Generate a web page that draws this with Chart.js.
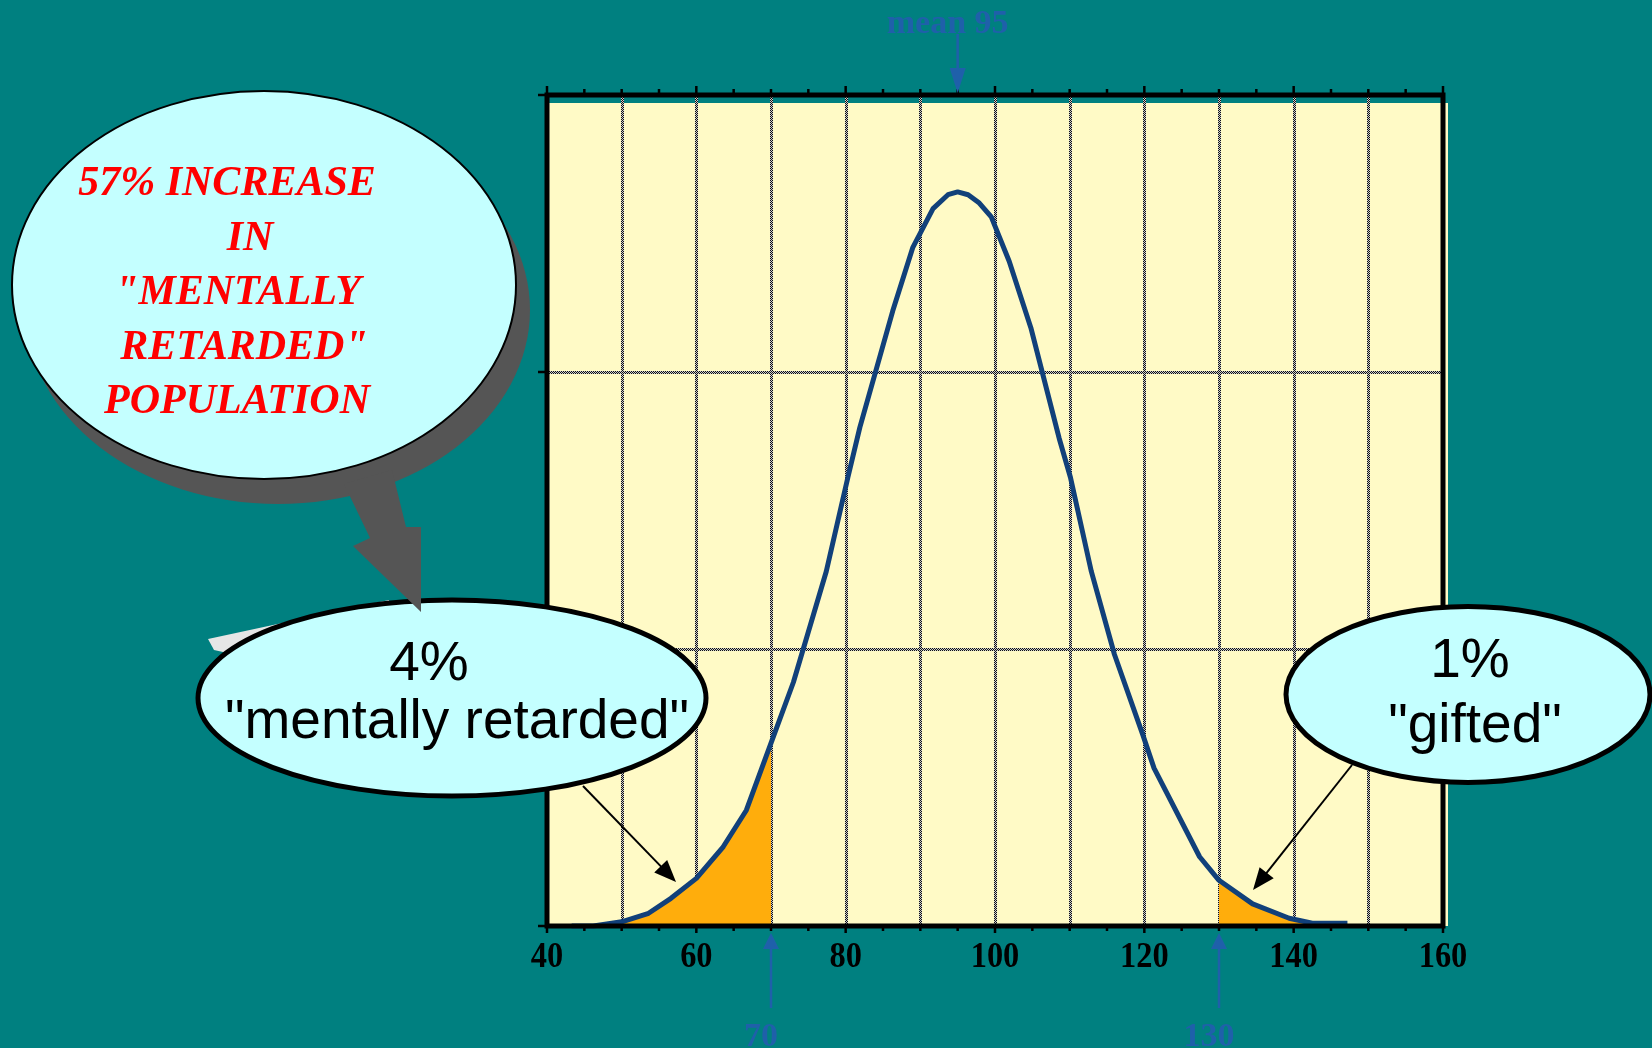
<!DOCTYPE html>
<html>
<head>
<meta charset="utf-8">
<script src="https://cdn.jsdelivr.net/npm/chart.js@4.4.1/dist/chart.umd.min.js"></script>
<style>
  html, body { margin: 0; padding: 0; background: #008080; overflow: hidden; }
  #wrap { position: relative; width: 1652px; height: 1048px; }
</style>
</head>
<body>
<div id="wrap"><canvas id="c" width="1652" height="1048"></canvas></div>
<script>
// IQ distribution curve: vertices of the drawn polyline (IQ score, % of population per point)
const curveX = [43.3, 46.2, 50.0, 53.6, 56.6, 60.0, 63.6, 66.7, 70.0, 73.0,
                77.4, 80.3, 81.9, 86.3, 89.0, 91.7, 93.7, 95.0, 96.4, 97.9,
                99.5, 101.9, 104.8, 108.6, 110.1, 112.9, 116.0, 119.8, 121.3, 127.4,
                130.0, 134.5, 139.4, 142.5, 147.2];
const curveY = [0.00, 0.00, 0.015, 0.046, 0.10, 0.172, 0.286, 0.418, 0.66, 0.88,
                1.28, 1.62, 1.80, 2.22, 2.45, 2.59, 2.64, 2.65, 2.64, 2.61,
                2.56, 2.40, 2.16, 1.76, 1.62, 1.28, 0.98, 0.69, 0.57, 0.25,
                0.165, 0.08, 0.028, 0.01, 0.01];

// Axis ticks and markers
const xTickLabels = [40, 60, 80, 100, 120, 140, 160];
const lowerCut = 70;
const upperCut = 130;
const meanIQ = 95;
const meanLabel = 'mean 95';

// Callout texts
const bubbleLines = ['57% INCREASE', 'IN', '"MENTALLY', 'RETARDED"', 'POPULATION'];
const lowLabel = ['4%', '"mentally retarded"'];
const highLabel = ['1%', '"gifted"'];

const PAPER = '#FFFAC6';
const ORANGE = '#FFAD0C';
const NAVY = '#11407A';
const CYAN = '#C4FFFF';
const MARK_BLUE = '#1F60AA';
const SHADOW = '#555555';

const pts = curveX.map((x, i) => ({ x: x, y: curveY[i] }));

function checkerPattern(ctx) {
  const c = document.createElement('canvas');
  c.width = 2; c.height = 2;
  const g = c.getContext('2d');
  g.fillStyle = '#d0d0d0'; g.fillRect(0, 0, 2, 2);
  g.fillStyle = '#111111'; g.fillRect(0, 0, 1, 1); g.fillRect(1, 1, 1, 1);
  return ctx.createPattern(c, 'repeat');
}

function arrowHead(ctx, x0, y0, x1, y1, len, half) {
  const ang = Math.atan2(y1 - y0, x1 - x0);
  const bx = x1 - len * Math.cos(ang), by = y1 - len * Math.sin(ang);
  const nx = -Math.sin(ang) * half, ny = Math.cos(ang) * half;
  ctx.beginPath();
  ctx.moveTo(x1, y1);
  ctx.lineTo(bx + nx, by + ny);
  ctx.lineTo(bx - nx, by - ny);
  ctx.closePath();
  ctx.fill();
}

function arrow(ctx, x0, y0, x1, y1, color, width, len, half) {
  const ang = Math.atan2(y1 - y0, x1 - x0);
  ctx.strokeStyle = color; ctx.fillStyle = color; ctx.lineWidth = width;
  ctx.beginPath();
  ctx.moveTo(x0, y0);
  ctx.lineTo(x1 - (len - 2) * Math.cos(ang), y1 - (len - 2) * Math.sin(ang));
  ctx.stroke();
  arrowHead(ctx, x0, y0, x1, y1, len, half);
}

function ellipse(ctx, cx, cy, rx, ry, fill, stroke, lw) {
  ctx.beginPath();
  ctx.ellipse(cx, cy, rx, ry, 0, 0, Math.PI * 2);
  if (fill) { ctx.fillStyle = fill; ctx.fill(); }
  if (stroke) { ctx.strokeStyle = stroke; ctx.lineWidth = lw; ctx.stroke(); }
}

// Plot paper, dotted grid, frame, ticks and labels
const paperPlugin = {
  id: 'paper',
  beforeDatasetsDraw(chart) {
    const { ctx, chartArea: a, scales: { x, y } } = chart;
    ctx.save();
    ctx.fillStyle = PAPER;
    ctx.fillRect(a.left + 2, a.top + 8, a.right - a.left + 3, a.bottom - a.top - 8);
    ctx.fillStyle = checkerPattern(ctx);
    for (let v = x.min + 10; v < x.max; v += 10) {
      const px = Math.round(x.getPixelForValue(v));
      ctx.fillRect(px - 1, a.top, 3, a.bottom - a.top);
    }
    for (let v = y.min + 1; v < y.max; v += 1) {
      const py = Math.round(y.getPixelForValue(v));
      ctx.fillRect(a.left, py - 1, a.right - a.left, 3);
    }
    ctx.restore();
  },
  afterDatasetsDraw(chart) {
    const { ctx, chartArea: a, scales: { x, y } } = chart;
    ctx.save();
    ctx.strokeStyle = '#000';
    ctx.lineCap = 'square';
    ctx.lineWidth = 5;
    ctx.beginPath();
    ctx.moveTo(a.left, a.top); ctx.lineTo(a.right, a.top);
    ctx.moveTo(a.left, a.bottom); ctx.lineTo(a.right, a.bottom);
    ctx.moveTo(a.left, a.top); ctx.lineTo(a.left, a.bottom);
    ctx.moveTo(a.right, a.top); ctx.lineTo(a.right, a.bottom);
    ctx.stroke();

    // minor/major ticks every 5 along the top and bottom axes
    ctx.lineCap = 'butt';
    ctx.lineWidth = 2.5;
    ctx.beginPath();
    for (let v = x.min; v <= x.max; v += 5) {
      const px = x.getPixelForValue(v);
      const major = (v - x.min) % 20 === 0;
      ctx.moveTo(px, a.top); ctx.lineTo(px, a.top - (major ? 9 : 6));
      ctx.moveTo(px, a.bottom); ctx.lineTo(px, a.bottom + (major ? 7 : 5));
    }
    for (let v = y.min; v <= y.max; v += 1) {
      const py = y.getPixelForValue(v);
      ctx.moveTo(a.left, py); ctx.lineTo(a.left - 9, py);
    }
    ctx.stroke();

    // bold, slightly narrowed tick labels under the axis
    ctx.fillStyle = '#000';
    ctx.font = 'bold 36px "Liberation Serif", "Times New Roman", serif';
    ctx.textAlign = 'center';
    ctx.textBaseline = 'alphabetic';
    xTickLabels.forEach(v => {
      ctx.save();
      ctx.translate(x.getPixelForValue(v), a.bottom + 41);
      ctx.scale(0.9, 1);
      ctx.fillText(String(v), 0, 0);
      ctx.restore();
    });
    ctx.restore();
  }
};

// Mean and cut-off markers, speech bubbles and pointers
const calloutPlugin = {
  id: 'callouts',
  afterDraw(chart) {
    const { ctx, chartArea: a, scales: { x } } = chart;
    ctx.save();

    // mean marker above the plot
    const mx = x.getPixelForValue(meanIQ);
    ctx.fillStyle = MARK_BLUE;
    ctx.font = 'bold 34px "Liberation Serif", "Times New Roman", serif';
    ctx.textAlign = 'center';
    ctx.textBaseline = 'alphabetic';
    ctx.fillText(meanLabel, mx - 10, 33);
    arrow(ctx, mx, 34, mx, a.top - 2, MARK_BLUE, 2.5, 25, 8);

    // cut-off markers below the axis
    [lowerCut, upperCut].forEach(v => {
      const px = x.getPixelForValue(v);
      arrow(ctx, px, 1008, px, a.bottom + 7, MARK_BLUE, 2.5, 16, 8);
      ctx.fillStyle = MARK_BLUE;
      ctx.fillText(String(v), px - 10, 1046);
    });

    // pale sliver behind the lower-left bubble
    ctx.fillStyle = '#E6E6E6';
    ctx.beginPath();
    ctx.moveTo(208, 639); ctx.lineTo(389, 600); ctx.lineTo(389, 607);
    ctx.lineTo(232, 654); ctx.lineTo(214, 650);
    ctx.closePath(); ctx.fill();

    // "mentally retarded" bubble
    ellipse(ctx, 452, 698, 254, 98, CYAN, '#000', 5);
    ctx.fillStyle = '#000';
    ctx.font = '55px "Liberation Sans", Arial, sans-serif';
    ctx.fillText(lowLabel[0], 429, 680);
    ctx.fillText(lowLabel[1], 457, 738);
    arrow(ctx, 583, 786, 676, 882, '#000', 2, 22, 9);

    // "gifted" bubble
    ellipse(ctx, 1468, 694.5, 182, 88, CYAN, '#000', 5);
    ctx.fillStyle = '#000';
    ctx.fillText(highLabel[0], 1470, 677);
    ctx.fillText(highLabel[1], 1475, 742);
    arrow(ctx, 1352, 765, 1253, 890, '#000', 2, 22, 9);

    // big speech bubble: shadow, pointer, body, text
    ellipse(ctx, 278, 310, 252, 194, SHADOW, null, 0);
    ctx.fillStyle = SHADOW;
    ctx.beginPath();
    ctx.moveTo(344, 484); ctx.lineTo(370, 538); ctx.lineTo(353, 546);
    ctx.lineTo(421, 612); ctx.lineTo(421, 527); ctx.lineTo(406, 527);
    ctx.lineTo(392, 470);
    ctx.closePath(); ctx.fill();
    ellipse(ctx, 264, 285, 252, 194, CYAN, '#000', 2);

    ctx.fillStyle = '#FF0000';
    ctx.font = 'italic bold 42px "Liberation Serif", "Times New Roman", serif';
    const lineX = [227, 250, 238, 244, 237];
    bubbleLines.forEach((t, i) => ctx.fillText(t, lineX[i], 195 + i * 54.5));

    ctx.restore();
  }
};

new Chart(document.getElementById('c').getContext('2d'), {
  type: 'line',
  data: {
    datasets: [
      { data: pts, borderColor: NAVY, borderWidth: 5, pointRadius: 0, fill: false,
        tension: 0, order: 0, clip: false, borderJoinStyle: 'round' },
      { data: pts.filter(p => p.x <= lowerCut), borderWidth: 0, borderColor: 'rgba(0,0,0,0)',
        backgroundColor: ORANGE, fill: 'origin', pointRadius: 0, tension: 0, order: 1 },
      { data: pts.filter(p => p.x >= upperCut), borderWidth: 0, borderColor: 'rgba(0,0,0,0)',
        backgroundColor: ORANGE, fill: 'origin', pointRadius: 0, tension: 0, order: 1 }
    ]
  },
  options: {
    responsive: false,
    animation: false,
    devicePixelRatio: 1,
    events: [],
    layout: { padding: { left: 547, right: 209, top: 95, bottom: 122 } },
    plugins: { legend: { display: false }, tooltip: { enabled: false } },
    scales: {
      x: { type: 'linear', min: 40, max: 160, display: false },
      y: { type: 'linear', min: 0, max: 3, display: false }
    }
  },
  plugins: [paperPlugin, calloutPlugin]
});
</script>
</body>
</html>
